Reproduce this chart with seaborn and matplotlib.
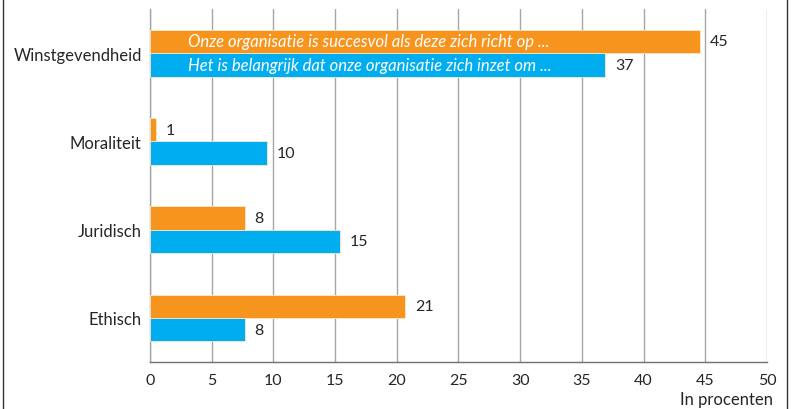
import numpy as np
import pandas as pd
import matplotlib
matplotlib.use('Agg')
import matplotlib.pyplot as plt
from matplotlib.lines import Line2D
import seaborn as sns

# data
categories = ["Winstgevendheid", "Moraliteit", "Juridisch", "Ethisch"]
series_names = ["Onze organisatie is succesvol als deze zich richt op ...",
                "Het is belangrijk dat onze organisatie zich inzet om ..."]
succesvol = [44.6, 0.5, 7.7, 20.7]
belangrijk = [36.9, 9.5, 15.4, 7.7]
succesvol_labels = ["45", "1", "8", "21"]
belangrijk_labels = ["37", "10", "15", "8"]
x_ticks = [0, 5, 10, 15, 20, 25, 30, 35, 40, 45, 50]

ORANGE = "#F7941D"
BLUE = "#00AEEF"

df = pd.DataFrame({
    "categorie": categories * 2,
    "waarde": succesvol + belangrijk,
    "reeks": [series_names[0]] * 4 + [series_names[1]] * 4,
})

sns.set_style("white")
plt.rcParams['font.family'] = ['Lato', 'DejaVu Sans']

fig = plt.figure(figsize=(7.92, 4.10), dpi=100)
ax = fig.add_axes([0.1894, 0.1146, 0.7790, 0.8610])

sns.barplot(data=df, x="waarde", y="categorie", hue="reeks", orient="h",
            order=categories, hue_order=series_names,
            palette=[ORANGE, BLUE], saturation=1, width=0.53, gap=0, ax=ax,
            edgecolor="#fde8cf", linewidth=0.6, zorder=3)
ax.get_legend().remove()

ax.set_xlim(0, 50)
ax.set_ylim(3.5, -0.5)
ax.set_xticks(x_ticks)
ax.set_xticklabels([str(t) for t in x_ticks], fontsize=11.5)
ax.grid(axis="x", color="#a6a6a6", linewidth=1.0, zorder=0)
ax.set_axisbelow(True)

# category labels without ticks, boundary ticks as minor ticks
ax.set_yticks(range(len(categories)))
ax.set_yticklabels(categories, fontsize=12)
ax.tick_params(axis="y", which="major", length=0, pad=6)
ax.set_yticks([0.5, 1.5, 2.5, 3.5], minor=True)
ax.tick_params(axis="y", which="minor", length=5, color="#808080", width=1)
ax.tick_params(axis="x", length=5, color="#a6a6a6", width=1, pad=3)

ax.set_xlabel("")
ax.set_ylabel("")
for s in ["top", "right"]:
    ax.spines[s].set_visible(False)
ax.spines["left"].set_color("#a6a6a6")
ax.spines["bottom"].set_color("#707070")
ax.spines["left"].set_linewidth(1)
ax.spines["bottom"].set_linewidth(1)

ax.bar_label(ax.containers[0], labels=succesvol_labels, padding=7, fontsize=11.5)
ax.bar_label(ax.containers[1], labels=belangrijk_labels, padding=7, fontsize=11.5)

# series names written inside the top bars
for cont, name in zip(ax.containers, series_names):
    bar = cont[0]
    ax.text(3.1, bar.get_y() + bar.get_height() / 2, name, color="white",
            style="italic", fontsize=12, va="center", ha="left", zorder=5)

fig.text(0.976, 0.025, "In procenten", ha="right", va="center", fontsize=12)

# frame lines at left and right
fig.add_artist(Line2D([0.004, 0.004], [0, 1], color="#333333", linewidth=1))
fig.add_artist(Line2D([0.994, 0.994], [0, 1], color="#333333", linewidth=1))

fig.savefig("out.png", dpi=100)
